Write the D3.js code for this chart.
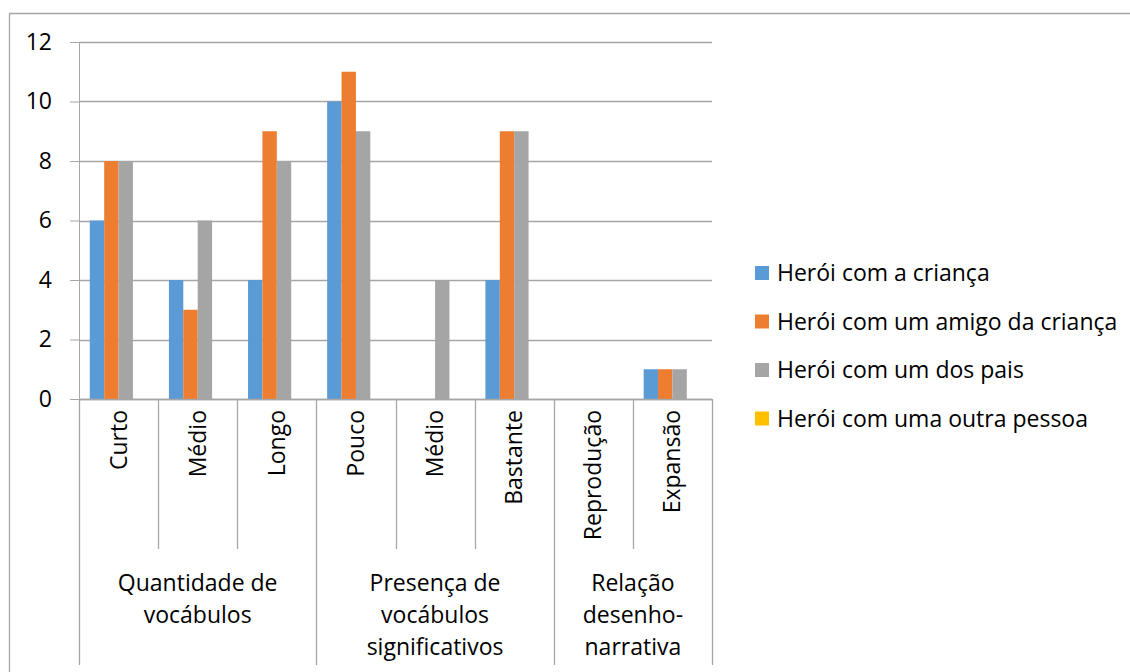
<!DOCTYPE html>
<html><head><meta charset="utf-8">
<script src="https://cdn.jsdelivr.net/npm/d3@7"></script>
<style>body{margin:0;background:#fff}svg{display:block}text{font-family:"Open Sans","Noto Sans",sans-serif;fill:#000}</style>
</head><body><svg id="c" width="1130" height="672"></svg>
<script>
const categories = ["Curto","Médio","Longo","Pouco","Médio","Bastante","Reprodução","Expansão"];
const groups = [
  {lines:["Quantidade de","vocábulos"], span:3},
  {lines:["Presença de","vocábulos","significativos"], span:3},
  {lines:["Relação","desenho-","narrativa"], span:2}
];
const seriesNames = ["Herói com a criança","Herói com um amigo da criança","Herói com um dos pais","Herói com uma outra pessoa"];
const seriesColors = ["#5B9BD5","#ED7D31","#A5A5A5","#FFC000"];
const s1 = [6,4,4,10,0,4,0,1];
const s2 = [8,3,9,11,0,9,0,1];
const s3 = [8,6,8,9,4,9,0,1];
const s4 = [0,0,0,0,0,0,0,0];
const yTicks = [0,2,4,6,8,10,12];
const series = [s1,s2,s3,s4];

const svg = d3.select("#c");
const L=79, R=712, T=42, B=399;
const fs = 23;
const grid = "#A6A6A6";

// outer frame
svg.append("path").attr("d","M9.5,672 V13.5 H1130").attr("fill","none").attr("stroke","#A6A6A6").attr("stroke-width",1.3);

const x = d3.scaleBand().domain(d3.range(categories.length)).range([L,R]).paddingInner(0).paddingOuter(0);
const bw = x.bandwidth();
// Excel gap width 150%: bar width = bw/(n+1.5)
const barW = bw/(series.length+1.5);
const y = d3.scaleLinear().domain([0,12]).range([B,T]);

// gridlines + y axis
const yAxis = d3.axisLeft(y).tickValues(yTicks).tickSize(9).tickFormat(d3.format("d"));
const gy = svg.append("g").attr("transform",`translate(${L},0)`).call(yAxis);
gy.select(".domain").attr("stroke",grid);
gy.selectAll(".tick line").attr("stroke",grid);
gy.selectAll(".tick text").attr("x",-27).style("font-size",fs+"px").attr("fill","#000");
svg.append("g").selectAll("line").data(yTicks).join("line")
  .attr("x1",L).attr("x2",R).attr("y1",d=>Math.round(y(d))+0.5).attr("y2",d=>Math.round(y(d))+0.5)
  .attr("stroke",grid).attr("stroke-width",1.3);

// bars
series.forEach((vals,si)=>{
  svg.append("g").selectAll("rect").data(vals).join("rect")
    .attr("x",(d,i)=>x(i)+barW*0.75+si*barW)
    .attr("width",barW)
    .attr("y",d=>y(d)).attr("height",d=>B-y(d))
    .attr("fill",seriesColors[si]);
});

// category boundaries
const groupBounds = [0];
groups.forEach(g=>groupBounds.push(groupBounds[groupBounds.length-1]+g.span));
const boundX = d3.range(categories.length+1).map(i=> i<categories.length ? x(i) : R);
svg.append("g").selectAll("line").data(d3.range(categories.length+1)).join("line")
  .attr("x1",i=>Math.round(boundX[i])+0.5).attr("x2",i=>Math.round(boundX[i])+0.5)
  .attr("y1",B).attr("y2",i=>groupBounds.includes(i)?665:549)
  .attr("stroke",grid).attr("stroke-width",1.3);
svg.append("line").attr("x1",L).attr("x2",R).attr("y1",B+0.5).attr("y2",B+0.5).attr("stroke",grid).attr("stroke-width",1.3);

// category labels (rotated)
svg.append("g").selectAll("text").data(categories).join("text")
  .attr("transform",(d,i)=>`translate(${x(i)+bw/2+8},410) rotate(-90)`)
  .attr("text-anchor","end").style("font-size",fs+"px").text(d=>d);

// group labels
groups.forEach((g,gi)=>{
  const x0 = boundX[groupBounds[gi]], x1 = boundX[groupBounds[gi+1]];
  const t = svg.append("text").attr("text-anchor","middle").style("font-size",fs+"px");
  g.lines.forEach((ln,li)=>t.append("tspan").attr("x",(x0+x1)/2).attr("y",591+li*32).text(ln));
});

// legend
const lg = svg.append("g");
seriesNames.forEach((n,i)=>{
  const yy = 273 + i*48.5;
  lg.append("rect").attr("x",755).attr("y",yy-7).attr("width",14).attr("height",14).attr("fill",seriesColors[i]);
  lg.append("text").attr("x",777).attr("y",yy+8).style("font-size",fs+"px").text(n);
});
</script></body></html>
